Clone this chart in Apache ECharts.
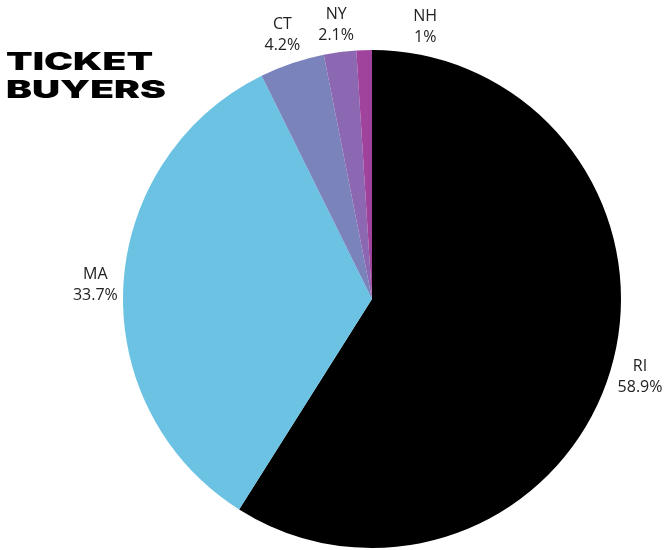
<!DOCTYPE html>
<html>
<head>
<meta charset="utf-8">
<script src="https://cdn.jsdelivr.net/npm/echarts@6/dist/echarts.min.js"></script>
<style>
  html, body { margin: 0; padding: 0; background: #fff; }
  #chart { width: 670px; height: 550px; }
</style>
</head>
<body>
<div id="chart"></div>
<script>
// ticket buyers by state
const states = ["RI", "MA", "CT", "NY", "NH"];
const shares = [58.9, 33.7, 4.2, 2.1, 1];
const colors = ["#000000", "#6bc2e3", "#7a83bc", "#8b68b1", "#a0439c"];

// small nudges so the top labels don't collide
const labelNudge = { MA: [2, 0], NY: [0, 3], NH: [62, 7] };

const chart = echarts.init(document.getElementById("chart"), null, { renderer: "canvas" });

chart.setOption({
  animation: false,
  graphic: [
    {
      type: "text",
      left: 6,
      top: 49,
      scaleX: 1.62,
      style: {
        text: "TICKET\nBUYERS",
        font: "900 24px Inter",
        lineHeight: 28,
        fill: "#000"
      }
    }
  ],
  series: [
    {
      type: "pie",
      center: [372, 299],
      radius: 249,
      startAngle: 90,
      clockwise: true,
      avoidLabelOverlap: false,
      data: states.map((s, i) => ({
        name: s,
        value: shares[i],
        itemStyle: { color: colors[i] }
      })),
      label: {
        show: true,
        position: "outside",
        distanceToLabelLine: 0,
        formatter: (p) => p.name + "\n" + p.value + "%",
        fontFamily: "Open Sans",
        fontSize: 16,
        lineHeight: 21,
        color: "#222"
      },
      labelLine: { show: false, length: 30, length2: 0 },
      labelLayout: (params) => {
        // centre each label on the end of its (hidden) label line
        const pts = params.labelLinePoints;
        const end = pts[pts.length - 1];
        const n = labelNudge[states[params.dataIndex]] || [0, 0];
        return {
          x: end[0] + n[0],
          y: end[1] + n[1],
          align: "center",
          verticalAlign: "middle"
        };
      }
    }
  ]
});
</script>
</body>
</html>
